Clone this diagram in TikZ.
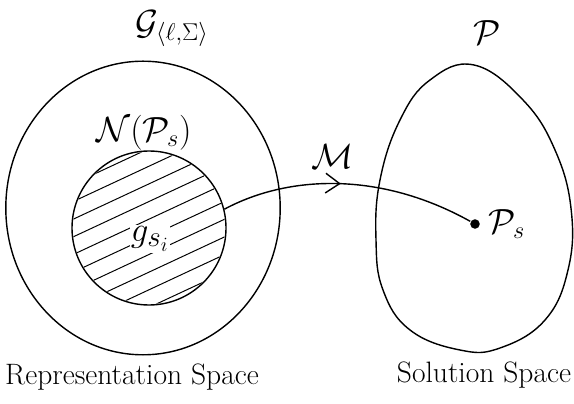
\documentclass[tikz,border=0pt]{standalone}
\usepackage{amsmath}
\usetikzlibrary{decorations.markings, arrows.meta}
\begin{document}
\begin{tikzpicture}[
  line width=1pt,
  space/.style={font=\fontsize{21}{24}\selectfont},
  setlabel/.style={font=\fontsize{24}{28}\selectfont},
  hatch/.style={line width=0.7pt},
  mapping/.style={postaction={decorate},
    decoration={markings, mark=at position 0.47 with {\arrow[line width=1pt]{Straight Barb[length=10pt, width=14pt]}}}}
]
\useasboundingbox (0,0) rectangle (14.35,10.075);
% representation space
\draw (3.575,4.875) ellipse [x radius=3.43, y radius=3.67];
\node[circle, draw, minimum size=3.85cm] (nbhd) at (3.725,4.375) {};
\begin{scope}
  \clip (nbhd.center) circle (1.9);
  \begin{scope}[shift={(nbhd.center)}, rotate=25]
    \foreach \d in {-1.8,-1.4,...,1.9}
      \draw[hatch] (-2.2,\d) -- (2.2,\d);
  \end{scope}
\end{scope}
\node[fill=white, inner sep=1pt, font=\fontsize{30}{34}\selectfont] (gsi) at (3.75,4.1) {$g_{s_i}$};
% solution space
\draw plot[smooth cycle, tension=0.7] coordinates {(11.85,8.45) (13.075,7.575) (13.875,6.325)
  (14.28,4.825) (14.2,3.325) (13.625,2.075) (12.5,1.375) (11.5,1.325) (10.25,1.825)
  (9.575,2.825) (9.4,4.075) (9.5,5.575) (10.0,7.075) (10.75,8.075)};
\node[circle, fill, inner sep=2.4pt] (ps) at (11.875,4.475) {};
% labels
\node[setlabel] (glab) at (4.3,9.35) {$\mathcal{G}_{\langle \ell,\Sigma\rangle}$};
\node[setlabel] (nlab) at (3.6,6.75) {$\mathcal{N}(\mathcal{P}_s)$};
\node[setlabel] (mlab) at (8.3,6.15) {$\mathcal{M}$};
\node[setlabel] (plab) at (12.175,9.25) {$\mathcal{P}$};
\node[setlabel, right=2pt] (pslab) at (ps.east) {$\mathcal{P}_s$};
\node[space] (rep) at (3.3,0.65) {Representation Space};
\node[space] (sol) at (12.1,0.7) {Solution Space};
% the mapping
\draw[mapping] (nbhd.14) .. controls (7.2,5.7) and (9.5,5.8) .. (ps);
\end{tikzpicture}
\end{document}
